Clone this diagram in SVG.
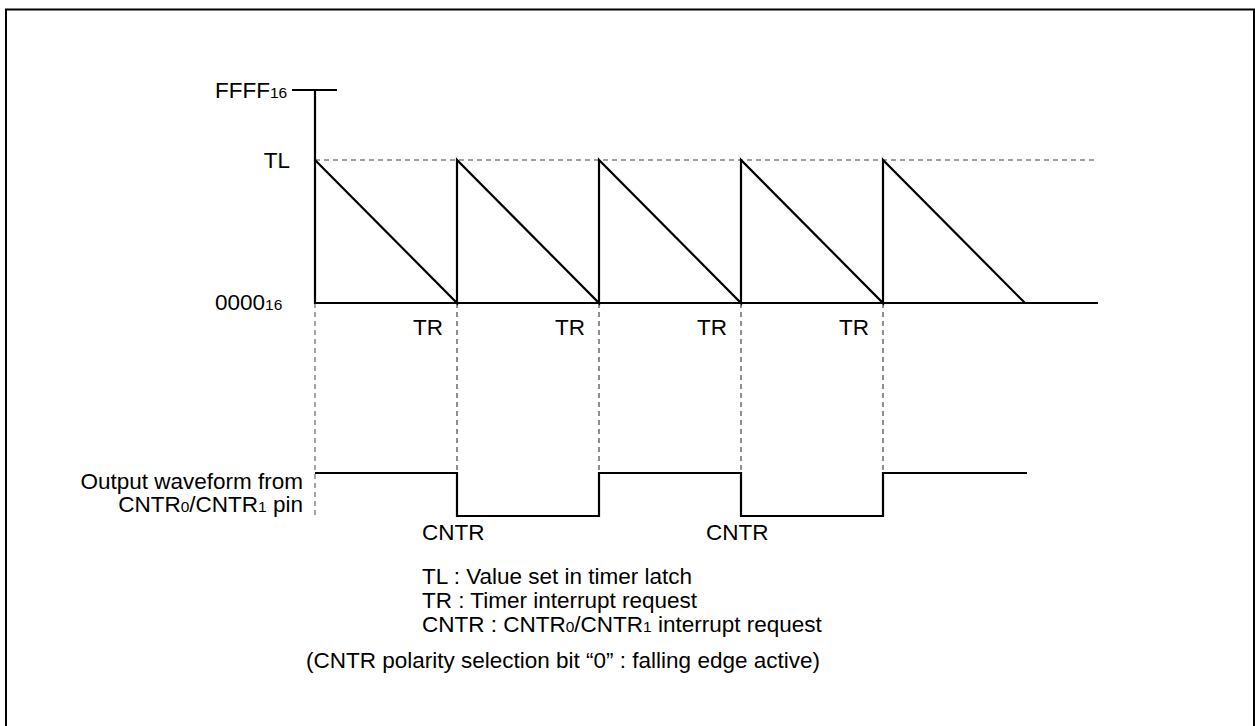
<svg xmlns="http://www.w3.org/2000/svg" width="1255" height="726" viewBox="0 0 1255 726">
<style>
text{font-family:"Liberation Sans",Arial,sans-serif;font-size:22.5px;fill:#000}
.sub{font-size:15.5px}
.solid{fill:none;stroke:#000;stroke-width:2.2}
.dash{fill:none;stroke:#444;stroke-width:1.2;stroke-dasharray:5 4}
.dashl{fill:none;stroke:#888;stroke-width:1.5;stroke-dasharray:5 4}
</style>
<rect x="0" y="0" width="1255" height="726" fill="#fff"/>
<rect x="6" y="9.5" width="1248" height="740" fill="none" stroke="#000" stroke-width="2"/>
<g id="connectors">
<path class="dash" d="M315 160H1098"/>
<path class="dashl" d="M315 303V516"/>
<path class="dash" d="M457 303V473M599 303V473M741 303V473M883 303V473"/>
<path class="solid" d="M292 90H337M315 90V303H1098"/>
<path class="solid" d="M315 160L457 303V160L599 303V160L741 303V160L883 303V160L1025 303"/>
<path class="solid" d="M315 473H457V516H599V473H741V516H883V473H1027"/>
</g>
<g id="axis-labels">
<text x="215" y="98">FFFF<tspan class="sub">16</tspan></text>
<text x="290" y="168" text-anchor="end">TL</text>
<text x="215" y="310">0000<tspan class="sub">16</tspan></text>
</g>
<g id="tr-labels">
<text x="413" y="335">TR</text>
<text x="555" y="335">TR</text>
<text x="697" y="335">TR</text>
<text x="839" y="335">TR</text>
</g>
<g id="waveform-label">
<text x="303" y="489" text-anchor="end">Output waveform from</text>
<text x="303" y="512" text-anchor="end">CNTR<tspan class="sub">0</tspan>/CNTR<tspan class="sub">1</tspan> pin</text>
</g>
<g id="cntr-labels">
<text x="422" y="540">CNTR</text>
<text x="706" y="540">CNTR</text>
</g>
<g id="legend">
<text x="422" y="584">TL : Value set in timer latch</text>
<text x="422" y="608">TR : Timer interrupt request</text>
<text x="422" y="632">CNTR : CNTR<tspan class="sub">0</tspan>/CNTR<tspan class="sub">1</tspan> interrupt request</text>
<text x="306" y="668">(CNTR polarity selection bit “0” : falling edge active)</text>
</g>
</svg>
